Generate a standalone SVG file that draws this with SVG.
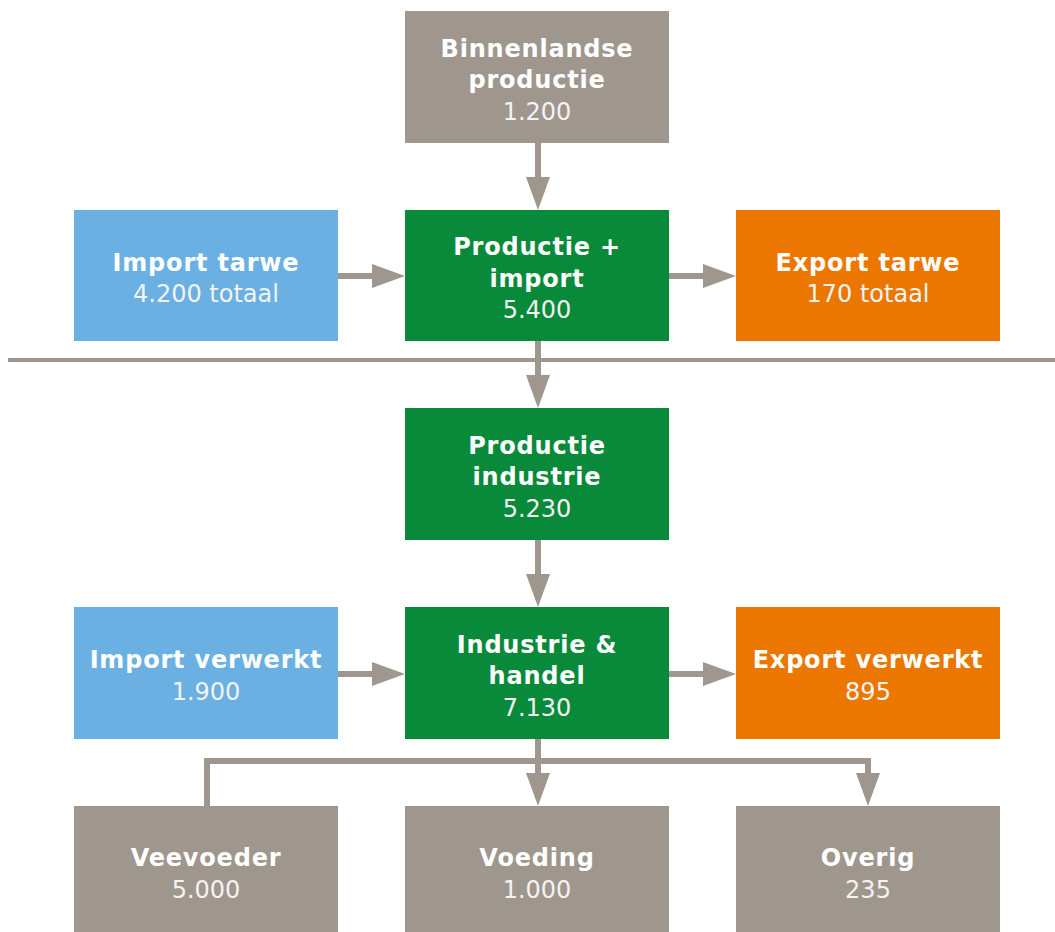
<svg xmlns="http://www.w3.org/2000/svg" width="1055" height="932" viewBox="0 0 1055 932">
<style>
.box{stroke:none}
.gray{fill:#9f968e}
.green{fill:#088a3a}
.blue{fill:#6ab0e2}
.orange{fill:#ec7700}
.t{font-family:"DejaVu Sans","Verdana",sans-serif;font-size:24px;fill:#ffffff;text-anchor:middle}
.b{font-weight:bold;letter-spacing:0.8px}
.n{font-weight:normal;fill:#f3f3f3}
.c{fill:none;stroke:#9f968e;stroke-width:6}
.sep{fill:none;stroke:#9f968e;stroke-width:4}
</style>
<defs>
<marker id="ah" viewBox="0 0 33 24" refX="1" refY="12" markerWidth="33" markerHeight="24" markerUnits="userSpaceOnUse" orient="auto">
<path d="M0,0 L33,12 L0,24 Z" fill="#9f968e"/>
</marker>
</defs>
<rect width="1055" height="932" fill="#ffffff"/>
<g id="connectors">
<line class="sep" x1="8" y1="360" x2="1055" y2="360"/>
<line class="c" x1="538" y1="143" x2="538" y2="178" marker-end="url(#ah)"/>
<line class="c" x1="338" y1="276" x2="373" y2="276" marker-end="url(#ah)"/>
<line class="c" x1="669" y1="276" x2="704" y2="276" marker-end="url(#ah)"/>
<line class="c" x1="538" y1="341" x2="538" y2="376" marker-end="url(#ah)"/>
<line class="c" x1="538" y1="540" x2="538" y2="575" marker-end="url(#ah)"/>
<line class="c" x1="338" y1="674" x2="373" y2="674" marker-end="url(#ah)"/>
<line class="c" x1="669" y1="674" x2="704" y2="674" marker-end="url(#ah)"/>
<line class="c" x1="538" y1="739" x2="538" y2="774" marker-end="url(#ah)"/>
<polyline class="c" points="207,806 207,761 868,761 868,774" marker-end="url(#ah)"/>
</g>
<g id="binnenlandse">
<rect class="box gray" x="405" y="11" width="264" height="132"/>
<text class="t b" x="537" y="56.5">Binnenlandse</text>
<text class="t b" x="537" y="88">productie</text>
<text class="t n" x="537" y="119.5">1.200</text>
</g>
<g id="import-tarwe">
<rect class="box blue" x="74" y="210" width="264" height="131"/>
<text class="t b" x="206" y="270.5">Import tarwe</text>
<text class="t n" x="206" y="302">4.200 totaal</text>
</g>
<g id="productie-import">
<rect class="box green" x="405" y="210" width="264" height="131"/>
<text class="t b" x="537" y="255">Productie +</text>
<text class="t b" x="537" y="286.5">import</text>
<text class="t n" x="537" y="318">5.400</text>
</g>
<g id="export-tarwe">
<rect class="box orange" x="736" y="210" width="264" height="131"/>
<text class="t b" x="868" y="270.5">Export tarwe</text>
<text class="t n" x="868" y="302">170 totaal</text>
</g>
<g id="productie-industrie">
<rect class="box green" x="405" y="408" width="264" height="132"/>
<text class="t b" x="537" y="453.5">Productie</text>
<text class="t b" x="537" y="485">industrie</text>
<text class="t n" x="537" y="516.5">5.230</text>
</g>
<g id="import-verwerkt">
<rect class="box blue" x="74" y="607" width="264" height="132"/>
<text class="t b" x="206" y="668">Import verwerkt</text>
<text class="t n" x="206" y="699.5">1.900</text>
</g>
<g id="industrie-handel">
<rect class="box green" x="405" y="607" width="264" height="132"/>
<text class="t b" x="537" y="652.5">Industrie &amp;</text>
<text class="t b" x="537" y="684">handel</text>
<text class="t n" x="537" y="715.5">7.130</text>
</g>
<g id="export-verwerkt">
<rect class="box orange" x="736" y="607" width="264" height="132"/>
<text class="t b" x="868" y="668">Export verwerkt</text>
<text class="t n" x="868" y="699.5">895</text>
</g>
<g id="veevoeder">
<rect class="box gray" x="74" y="806" width="264" height="132"/>
<text class="t b" x="206" y="866">Veevoeder</text>
<text class="t n" x="206" y="897.5">5.000</text>
</g>
<g id="voeding">
<rect class="box gray" x="405" y="806" width="264" height="132"/>
<text class="t b" x="537" y="866">Voeding</text>
<text class="t n" x="537" y="897.5">1.000</text>
</g>
<g id="overig">
<rect class="box gray" x="736" y="806" width="264" height="132"/>
<text class="t b" x="868" y="866">Overig</text>
<text class="t n" x="868" y="897.5">235</text>
</g>
</svg>
